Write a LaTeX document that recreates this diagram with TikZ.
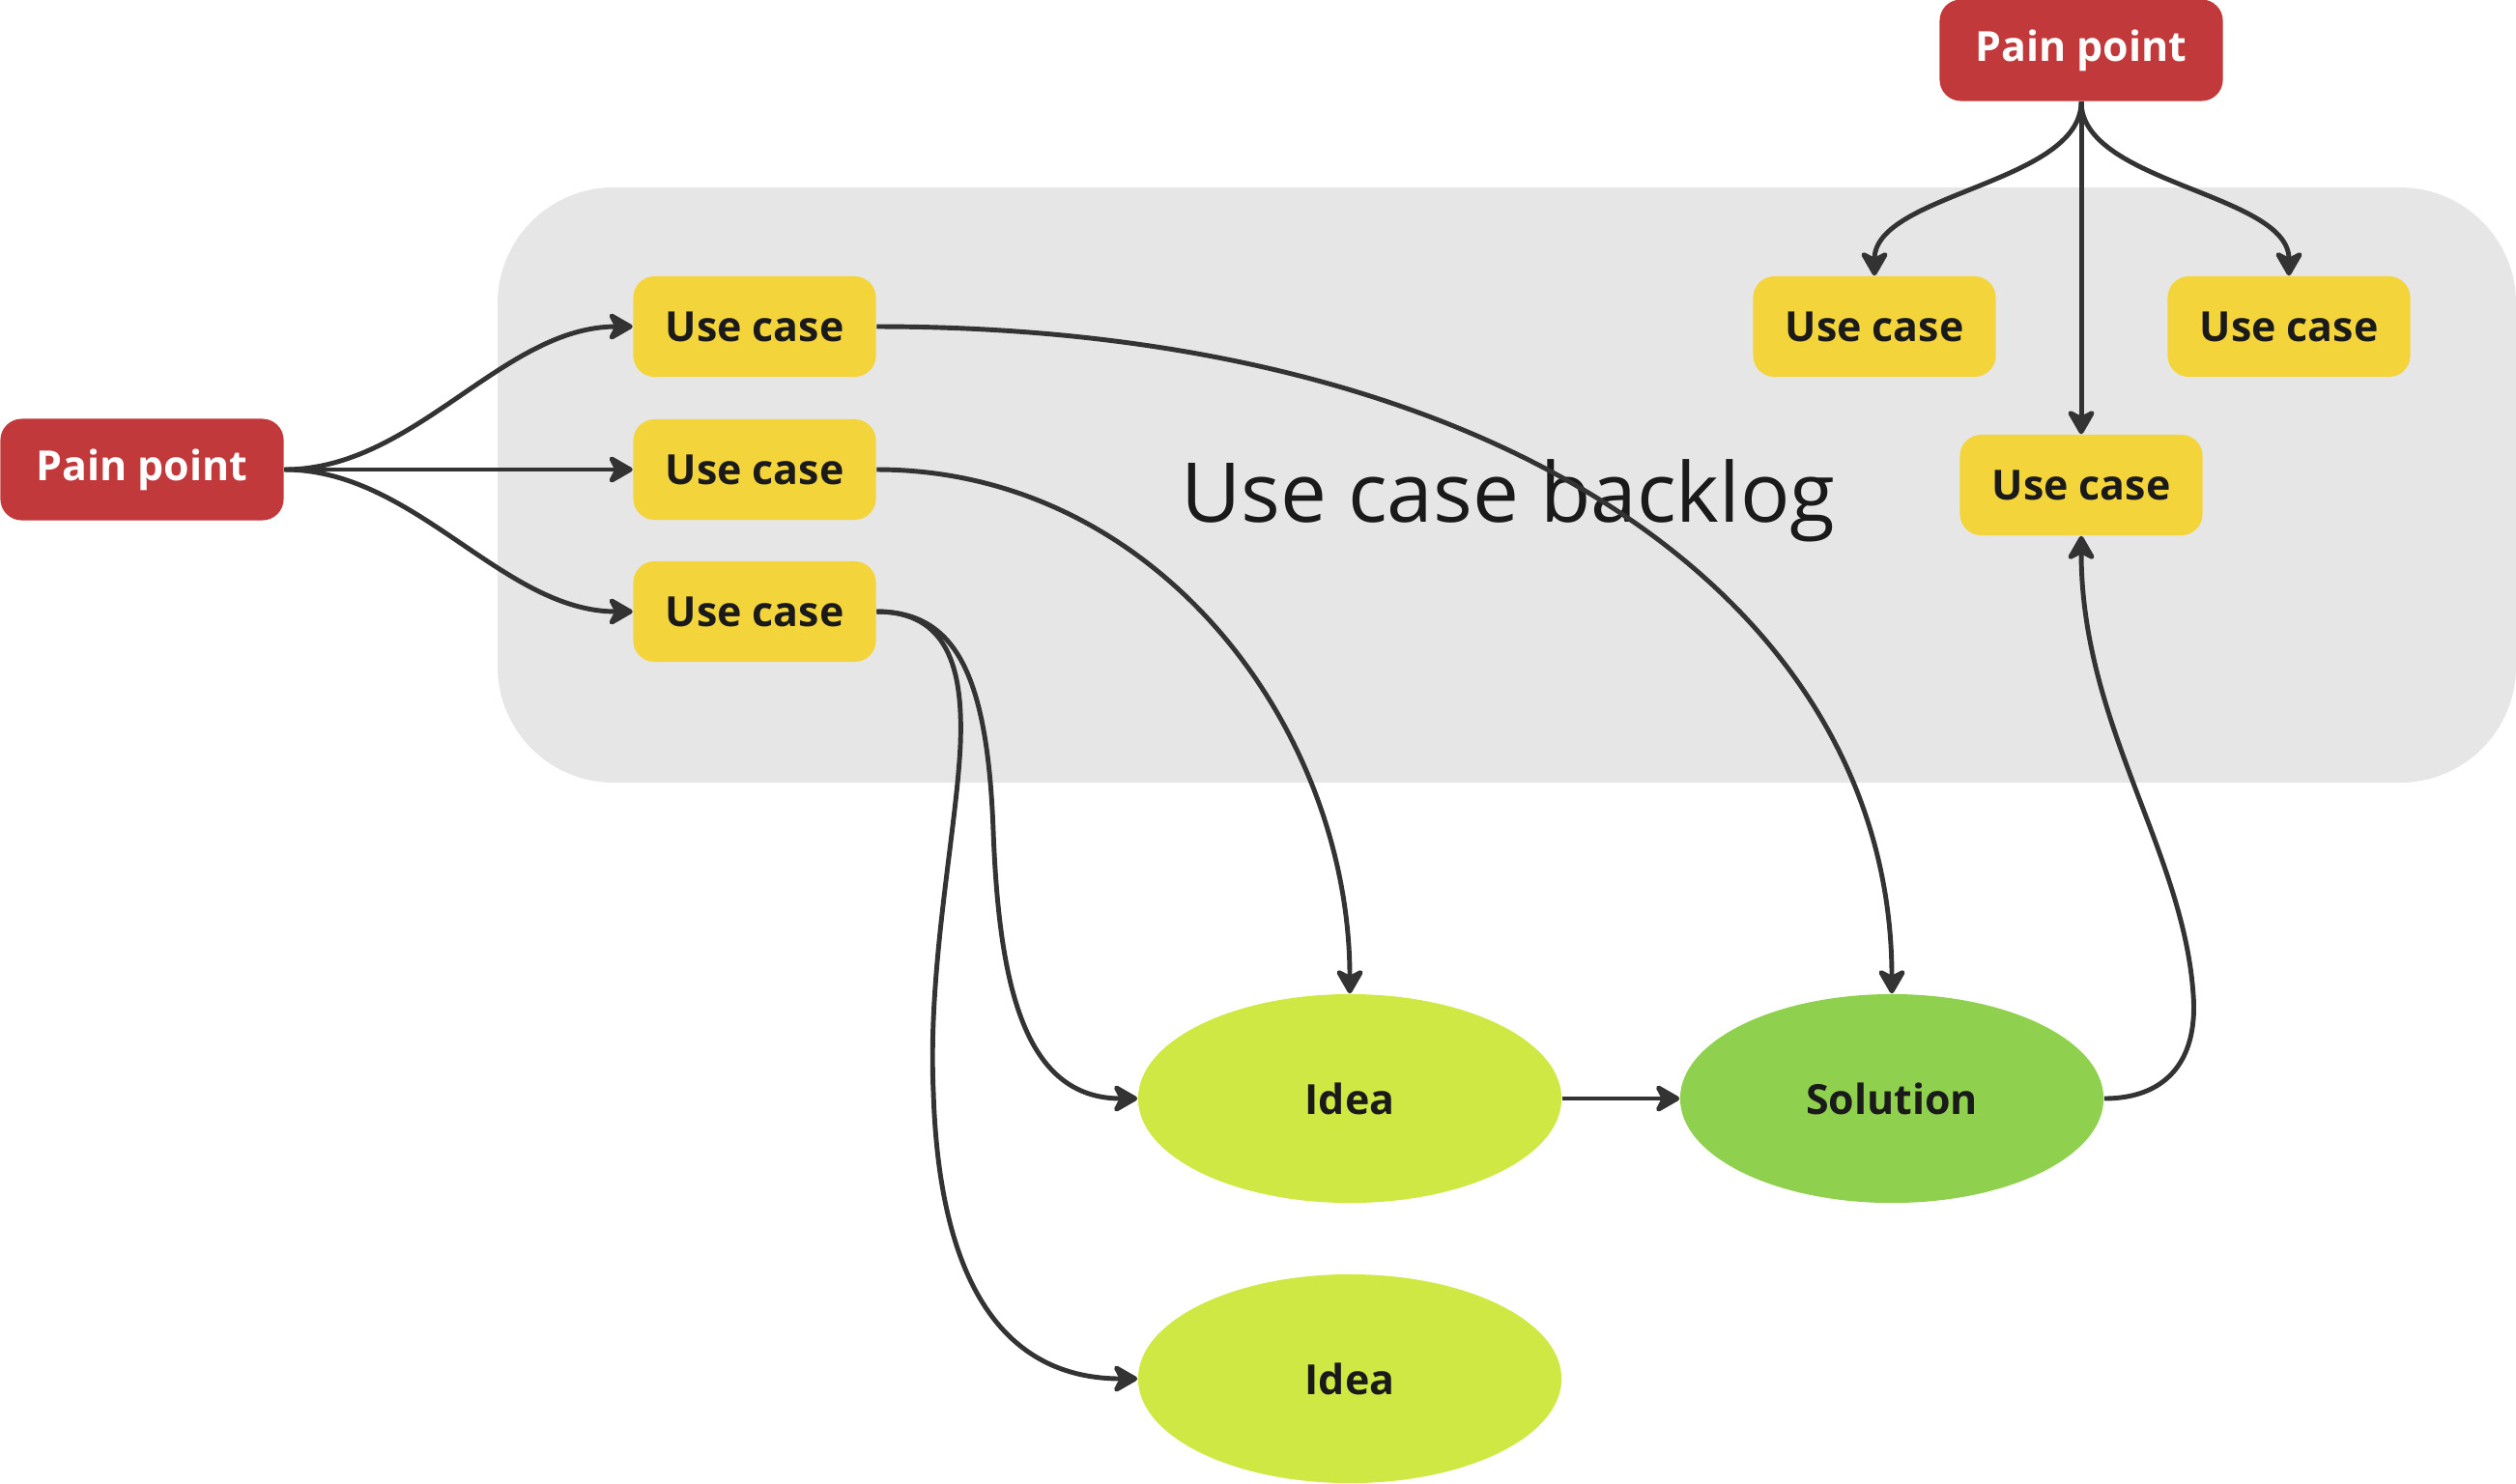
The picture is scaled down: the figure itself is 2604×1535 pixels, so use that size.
\documentclass[tikz,border=0pt]{standalone}
\usepackage{fontspec}
\setmainfont{Open Sans}
\usetikzlibrary{arrows.meta,shapes.geometric}
\definecolor{painred}{HTML}{C1393B}
\definecolor{ucyellow}{HTML}{F3D43A}
\definecolor{ideagreen}{HTML}{CFE843}
\definecolor{solgreen}{HTML}{8FD14F}
\definecolor{backgray}{HTML}{E6E6E6}
\definecolor{linec}{HTML}{333333}
\definecolor{txt}{HTML}{1A1A1A}
\tikzset{
  painbox/.style={fill=painred, text=white, rounded corners=0.22cm, minimum width=2.93cm, minimum height=1.05cm, inner sep=0pt, font=\fontsize{12.2}{15}\selectfont\bfseries},
  ucbox/.style={fill=ucyellow, text=txt, rounded corners=0.22cm, minimum width=2.51cm, minimum height=1.04cm, inner sep=0pt, font=\fontsize{12.2}{15}\selectfont\bfseries},
  ideanode/.style={ellipse, fill=ideagreen, text=txt, minimum width=4.38cm, minimum height=2.16cm, inner sep=0pt, font=\fontsize{12.2}{15}\selectfont\bfseries},
  solnode/.style={ideanode, fill=solgreen},
  conn/.style={draw=linec, line width=1.4pt, -{Stealth[length=8.5pt,width=9.7pt,inset=2.5pt,round]}}
}
\begin{document}
\begin{tikzpicture}[x=0.01cm,y=-0.01cm]
\useasboundingbox (0,0) rectangle (2604,1535);
\fill[backgray, rounded corners=1.2cm] (515,194) rectangle (2604,810);
\node[text=txt, font=\fontsize{24.3}{29}\selectfont, anchor=base] (backlog) at (1561,540) {Use case backlog};

\node[painbox] (pp1) at (147,486) {Pain point};
\node[painbox] (pp2) at (2154,52) {Pain point};
\node[ucbox] (uc1) at (781,338) {Use case};
\node[ucbox] (uc2) at (781,486) {Use case};
\node[ucbox] (uc3) at (781,633) {Use case};
\node[ucbox] (ucA) at (1940,338) {Use case};
\node[ucbox] (ucB) at (2369,338) {Use case};
\node[ucbox] (ucC) at (2154,502) {Use case};
\node[ideanode] (idea1) at (1397,1137) {Idea};
\node[solnode] (sol) at (1958,1137) {Solution};
\node[ideanode] (idea2) at (1397,1427) {Idea};

\draw[conn] (pp1.east) .. controls (430,486) and (520,338) .. (uc1.west);
\draw[conn] (pp1.east) -- (uc2.west);
\draw[conn] (pp1.east) .. controls (430,486) and (520,633) .. (uc3.west);

\draw[conn] (uc1.east) .. controls (1556,338) and (1958,626) .. (sol.north);
\draw[conn] (uc2.east) .. controls (1198,486) and (1397,755) .. (idea1.north);
\draw[conn] (uc3.east) .. controls (990,633) and (1022,700) .. (1028,860)
  .. controls (1034,1020) and (1060,1137) .. (idea1.west);
\draw[conn] (uc3.east) .. controls (980,633) and (997,690) .. (994,770)
  .. controls (990,860) and (960,1000) .. (966,1130)
  .. controls (972,1330) and (1040,1427) .. (idea2.west);
\draw[conn] (idea1.east) -- (sol.west);
\draw[conn] (sol.east) .. controls (2240,1137) and (2275,1100) .. (2270,1030)
  .. controls (2260,880) and (2154,750) .. (ucC.south);

\draw[conn] (pp2.south) .. controls (2154,190) and (1940,200) .. (ucA.north);
\draw[conn] (pp2.south) .. controls (2154,190) and (2369,200) .. (ucB.north);
\draw[conn] (pp2.south) -- (ucC.north);
\end{tikzpicture}
\end{document}
